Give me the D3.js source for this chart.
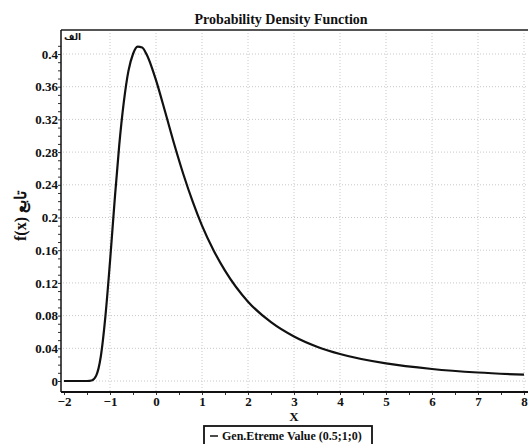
<!DOCTYPE html>
<html>
<head>
<meta charset="utf-8">
<script src="https://cdn.jsdelivr.net/npm/d3@7"></script>
<style>
  body { margin: 0; background: #fff; }
  svg text { font-family: 'Liberation Serif', 'Times New Roman', serif; font-weight: bold; fill: #111; }
  .grid line { stroke: #c8c8c8; stroke-dasharray: 1,2; }
  .axis .domain { display: none; }
  .axis text { font-size: 13px; font-family: 'Liberation Serif', 'Times New Roman', serif; }
</style>
</head>
<body>
<svg id="chart"></svg>
<script>
// values
const xValues = [-2, -1.5, -1.4, -1.3, -1.2, -1.1, -1.0, -0.9, -0.8, -0.7, -0.6, -0.5, -0.4, -0.3, -0.2, -0.1,
  0, 0.2, 0.4, 0.6, 0.8, 1.0, 1.25, 1.5, 2, 2.5, 3, 3.5, 4, 5, 6, 7, 8];
const yValues = [0, 0, 0.0006, 0.0066, 0.030, 0.079, 0.146, 0.220, 0.288, 0.341, 0.379, 0.400, 0.409, 0.408, 0.399, 0.385,
  0.368, 0.329, 0.289, 0.252, 0.219, 0.190, 0.160, 0.135, 0.097, 0.072, 0.0545, 0.042, 0.033, 0.0215, 0.0147, 0.0104, 0.0077];
const xTicks = [-2, -1, 0, 1, 2, 3, 4, 5, 6, 7, 8];
const yTicks = [0, 0.04, 0.08, 0.12, 0.16, 0.2, 0.24, 0.28, 0.32, 0.36, 0.4];
const yTickLabels = ['0', '0.04', '0.08', '0.12', '0.16', '0.2', '0.24', '0.28', '0.32', '0.36', '0.4'];
const legendLabel = 'Gen.Etreme Value (0.5;1;0)';

const width = 528, height = 444;
const plot = {left: 61, top: 30, right: 528, bottom: 392};

const svg = d3.select('#chart')
    .attr('width', width)
    .attr('height', height);

const xScale = d3.scaleLinear().domain([-2, 8]).range([64, 524]);
const yScale = d3.scaleLinear().domain([0, 0.4]).range([381, 54]);

// grid
const grid = svg.append('g').attr('class', 'grid');
grid.selectAll('.vg')
    .data(xTicks.slice(1))
  .enter().append('line')
    .attr('x1', d => xScale(d)).attr('x2', d => xScale(d))
    .attr('y1', plot.top).attr('y2', plot.bottom);
grid.selectAll('.hg')
    .data(yTicks)
  .enter().append('line')
    .attr('x1', plot.left + 2).attr('x2', plot.right)
    .attr('y1', d => yScale(d)).attr('y2', d => yScale(d));

// minor ticks
svg.append('g')
    .attr('transform', `translate(${plot.left},0)`)
    .call(d3.axisLeft(yScale).tickValues(d3.range(0, 0.42, 0.01)).tickSize(3).tickFormat(''))
    .call(g => g.select('.domain').remove())
    .selectAll('line').attr('stroke', '#333');
svg.append('g')
    .attr('transform', `translate(0,${plot.bottom})`)
    .call(d3.axisBottom(xScale).tickValues(d3.range(-2, 8.01, 0.5)).tickSize(3).tickFormat(''))
    .call(g => g.select('.domain').remove())
    .selectAll('line').attr('stroke', '#333');

// axes labels
svg.append('g')
    .attr('class', 'axis')
    .attr('transform', `translate(${plot.left},0)`)
    .call(d3.axisLeft(yScale).tickValues(yTicks).tickSize(0).tickPadding(3)
      .tickFormat((d, i) => yTickLabels[i]));
svg.append('g')
    .attr('class', 'axis')
    .attr('transform', `translate(0,${plot.bottom})`)
    .call(d3.axisBottom(xScale).tickValues(xTicks).tickSize(0).tickPadding(5));

// frame
svg.append('line')
    .attr('x1', plot.left).attr('x2', plot.right)
    .attr('y1', plot.top).attr('y2', plot.top)
    .attr('stroke', '#555').attr('stroke-width', 2);
svg.append('line')
    .attr('x1', plot.left).attr('x2', plot.left)
    .attr('y1', plot.top).attr('y2', plot.bottom)
    .attr('stroke', '#111').attr('stroke-width', 1.5);
svg.append('line')
    .attr('x1', plot.left).attr('x2', plot.right)
    .attr('y1', plot.bottom).attr('y2', plot.bottom)
    .attr('stroke', '#111').attr('stroke-width', 2);

// curve
const data = xValues.map((x, i) => ({x: x, y: yValues[i]}));
const line = d3.line()
    .x(d => xScale(d.x))
    .y(d => yScale(d.y))
    .curve(d3.curveMonotoneX);
svg.append('path')
    .datum(data)
    .attr('d', line)
    .attr('fill', 'none')
    .attr('stroke', '#111')
    .attr('stroke-width', 2.2);

// titles
svg.append('text')
    .attr('x', 281).attr('y', 24)
    .style('text-anchor', 'middle')
    .style('font-size', '14px')
    .text('Probability Density Function');

svg.append('text')
    .attr('x', 64).attr('y', 40)
    .style('font-size', '9px')
    .style('font-family', 'DejaVu Sans, sans-serif')
    .text('الف');

svg.append('text')
    .attr('x', xScale(3)).attr('y', 421)
    .style('text-anchor', 'middle')
    .style('font-size', '13px')
    .text('X');

svg.append('text')
    .attr('transform', 'translate(26,216) rotate(-90)')
    .style('text-anchor', 'middle')
    .style('font-size', '16px')
    .text('f(x) تابع');

// legend
const legend = svg.append('g');
legend.append('rect')
    .attr('x', 204).attr('y', 426)
    .attr('width', 168).attr('height', 24)
    .attr('fill', '#fff')
    .attr('stroke', '#111').attr('stroke-width', 1.8);
legend.append('line')
    .attr('x1', 210).attr('x2', 218)
    .attr('y1', 436).attr('y2', 436)
    .attr('stroke', '#111').attr('stroke-width', 1.5);
legend.append('text')
    .attr('x', 222).attr('y', 440)
    .style('font-size', '12px')
    .text(legendLabel);
</script>
</body>
</html>
